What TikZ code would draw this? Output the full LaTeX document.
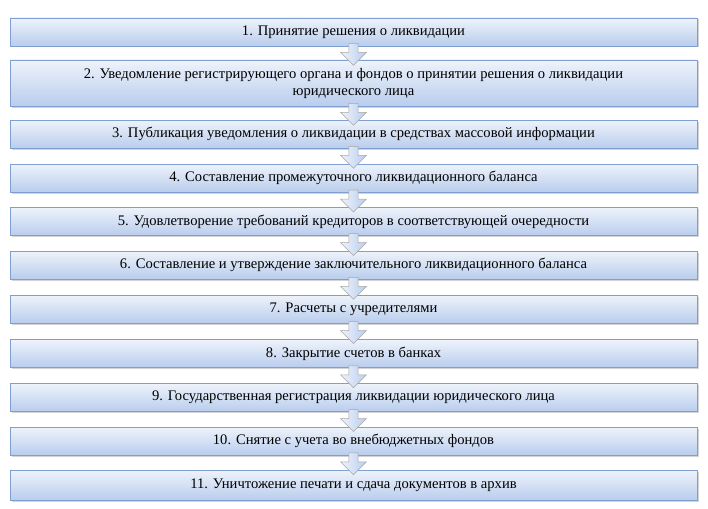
\documentclass[tikz,border=0pt]{standalone}
\usepackage{fontspec}
\setmainfont{Liberation Serif}
\usetikzlibrary{shapes.arrows,shadows}
\definecolor{bord}{HTML}{7F9FD0}
\definecolor{ftop}{HTML}{EEF3FB}
\definecolor{fbot}{HTML}{B9CDED}
\begin{document}
\begin{tikzpicture}[x=1pt,y=-1pt,
  stepbox/.style={draw=bord,line width=0.6pt,top color=ftop,bottom color=fbot,
    minimum width=687pt,inner sep=0pt,align=center,font=\fontsize{14.6}{17}\selectfont,
    drop shadow={shadow xshift=1.5pt,shadow yshift=-1.5pt,opacity=0.35}},
  arr/.style={single arrow,draw=gray!70,line width=0.5pt,left color=ftop,right color=fbot,
    shape border rotate=270,minimum width=26pt,single arrow head extend=6pt,
    single arrow head indent=0pt,minimum height=22pt,inner sep=3pt}]
\useasboundingbox (0,0) rectangle (708,508);
\def\bx#1#2#3#4{\node[stepbox,minimum height=#3pt] (#1) at (353.5,#2) {#4};}
\bx{b1}{32}{28}{1. Принятие решения о ликвидации}
\bx{b2}{83}{46}{2. Уведомление регистрирующего органа и фондов о принятии решения о ликвидации\\юридического лица}
\bx{b3}{134}{28}{3. Публикация уведомления о ликвидации в средствах массовой информации}
\bx{b4}{178}{28}{4. Составление промежуточного ликвидационного баланса}
\bx{b5}{221.5}{28}{5. Удовлетворение требований кредиторов в соответствующей очередности}
\bx{b6}{265}{28}{6. Составление и утверждение заключительного ликвидационного баланса}
\bx{b7}{309}{28}{7. Расчеты с учредителями}
\bx{b8}{353.5}{28}{8. Закрытие счетов в банках}
\bx{b9}{397.5}{28}{9. Государственная регистрация ликвидации юридического лица}
\bx{b10}{441}{28}{10. Снятие с учета во внебюджетных фондов}
\bx{b11}{485}{30}{11. Уничтожение печати и сдача документов в архив}
\foreach \a/\b in {b1/b2,b2/b3,b3/b4,b4/b5,b5/b6,b6/b7,b7/b8,b8/b9,b9/b10,b10/b11}{
  \path (\a.south) -- coordinate[pos=0.5] (m\a) (\b.north);
  \node[arr] (ar\a) at ([yshift=1pt]m\a) {};
}
\end{tikzpicture}
\end{document}
